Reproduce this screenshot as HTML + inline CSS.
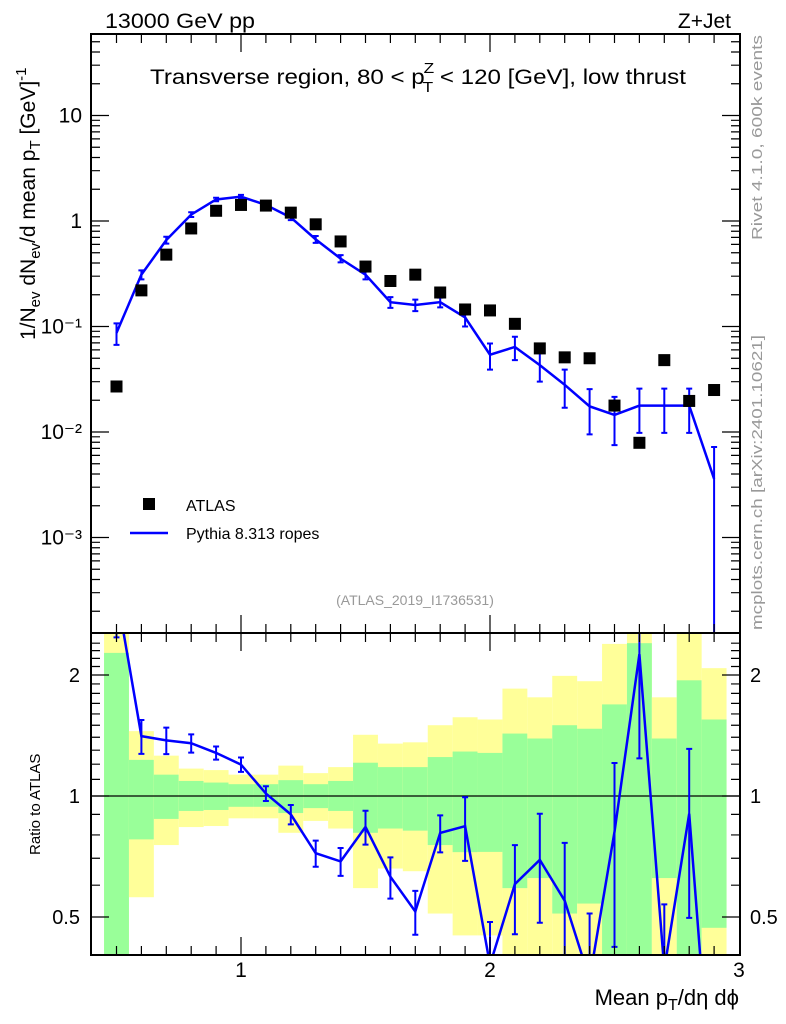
<!DOCTYPE html>
<html><head><meta charset="utf-8"><style>
html,body{margin:0;padding:0;background:#fff;width:786px;height:1024px;overflow:hidden;}
svg{display:block;font-family:"Liberation Sans",Arial,sans-serif;}
</style></head><body>
<svg id="chart" width="786" height="1024" viewBox="0 0 786 1024" xmlns="http://www.w3.org/2000/svg">
<g id="bands"></g>
<g id="marks"></g>
<g id="axes"></g>
<text x="105" y="28" font-size="21" textLength="150" lengthAdjust="spacingAndGlyphs">13000 GeV pp</text>
<text x="731" y="28" font-size="21" text-anchor="end">Z+Jet</text>
<g transform="translate(150,0) scale(1.15,1) translate(-150,0)">
<text x="150" y="84" font-size="21"><tspan>Transverse region, 80 &lt; p</tspan><tspan font-size="15" dx="-1" dy="-11">Z</tspan><tspan font-size="15" dx="-10" dy="19">T</tspan><tspan dy="-8"> &lt; 120 [GeV], low thrust</tspan></text>
</g>
<text x="415" y="605" font-size="14" fill="#999" text-anchor="middle">(ATLAS_2019_I1736531)</text>
<text transform="translate(762,240) rotate(-90)" font-size="15" fill="#999" textLength="205" lengthAdjust="spacingAndGlyphs">Rivet 4.1.0,  600k events</text>
<text transform="translate(762,630) rotate(-90)" font-size="15" fill="#999" textLength="295" lengthAdjust="spacingAndGlyphs">mcplots.cern.ch [arXiv:2401.10621]</text>
<text transform="translate(35,340) rotate(-90)" font-size="21">1/N<tspan font-size="15" dy="5">ev</tspan><tspan dy="-5"> dN</tspan><tspan font-size="15" dy="5">ev</tspan><tspan dy="-5">/d mean p</tspan><tspan font-size="15" dy="5">T</tspan><tspan dy="-5"> [GeV]</tspan><tspan font-size="15" dy="-9">-1</tspan></text>
<text transform="translate(40,855) rotate(-90)" font-size="15">Ratio to ATLAS</text>
<text x="739" y="1005" font-size="22" text-anchor="end">Mean p<tspan font-size="16" dy="5">T</tspan><tspan dy="-5">/dη dϕ</tspan></text>
<rect x="143" y="498" width="12" height="12" fill="#000"/>
<text x="186" y="511" font-size="16">ATLAS</text>
<line x1="130" y1="533" x2="168" y2="533" stroke="#0000ff" stroke-width="2.5"/>
<text x="186" y="539" font-size="16">Pythia 8.313 ropes</text>
</svg>
<script>
const xCenters=[0.5,0.6,0.7,0.8,0.9,1.0,1.1,1.2,1.3,1.4,1.5,1.6,1.7,1.8,1.9,2.0,2.1,2.2,2.3,2.4,2.5,2.6,2.7,2.8,2.9];
const atlasValues=[0.027,0.22,0.48,0.85,1.25,1.42,1.4,1.2,0.93,0.64,0.37,0.27,0.31,0.21,0.145,0.142,0.106,0.062,0.051,0.05,0.0178,0.0079,0.048,0.0197,0.025];
const mcValues=[0.087,0.31,0.66,1.15,1.6,1.7,1.42,1.08,0.67,0.44,0.31,0.17,0.16,0.17,0.122,0.054,0.064,0.043,0.028,0.0175,0.0145,0.0178,0.0178,0.0178,0.0036];
const mcErrors=[0.02,0.03,0.05,0.06,0.06,0.07,0.06,0.06,0.05,0.035,0.03,0.02,0.02,0.018,0.022,0.015,0.016,0.013,0.011,0.008,0.007,0.008,0.008,0.008,0.0036];
const greenUp=[2.27,1.23,1.13,1.09,1.08,1.07,1.07,1.095,1.07,1.09,1.21,1.18,1.18,1.25,1.29,1.28,1.43,1.39,1.5,1.47,1.69,2.4,1.39,1.94,1.55];
const greenDn=[0.3,0.78,0.877,0.918,0.923,0.94,0.94,0.907,0.933,0.918,0.81,0.83,0.82,0.755,0.725,0.726,0.59,0.625,0.51,0.54,0.3,0.3,0.625,0.3,0.47];
const yellowUp=[3,1.45,1.26,1.17,1.16,1.13,1.13,1.19,1.14,1.18,1.42,1.35,1.36,1.5,1.57,1.55,1.85,1.76,1.99,1.93,2.39,3,1.76,3,2.08];
const yellowDn=[0.3,0.56,0.755,0.837,0.842,0.88,0.88,0.81,0.867,0.83,0.59,0.66,0.65,0.51,0.45,0.45,0.3,0.3,0.3,0.3,0.3,0.3,0.3,0.3,0.3];
const mainTickLabels=["10⁻³","10⁻²","10⁻¹","1","10"];
const ratioTickValues=[0.5,1,2];
const xTickValues=[1,2,3];

const NS="http://www.w3.org/2000/svg";
const L=91,R=740,T=34,MB=633,RB=955;
const X=v=>241+(v-1)*249;
const Y=v=>221-Math.log10(v)*105.5;
const YR=v=>796-Math.log2(v)*121;
const bw=0.05;
function mk(parent,tag,attrs){const e=document.createElementNS(NS,tag);for(const k in attrs)e.setAttribute(k,attrs[k]);parent.appendChild(e);return e;}
const bands=document.getElementById('bands'),marks=document.getElementById('marks'),axes=document.getElementById('axes');
const clampR=v=>Math.max(MB,Math.min(RB,v));

xCenters.forEach((c,i)=>{
 const x0=X(c-bw),w=X(c+bw)-x0;
 let y1=clampR(YR(yellowUp[i])),y2=clampR(YR(yellowDn[i]));
 const r=mk(bands,'rect',{x:x0,y:y1,width:w,height:y2-y1,fill:'#ffff99'});
 
 
 y1=clampR(YR(greenUp[i]));y2=clampR(YR(greenDn[i]));
 const g=mk(bands,'rect',{x:x0,y:y1,width:w,height:y2-y1,fill:'#99ff99'});
 
 
});
const one=mk(marks,'line',{x1:L,x2:R,y1:YR(1),y2:YR(1),stroke:'#000','stroke-width':1.2});



const defs=mk(document.getElementById('chart'),'defs',{});
const c1=mk(defs,'clipPath',{id:'cm'});mk(c1,'rect',{x:L,y:T,width:R-L,height:MB-T});
const c2=mk(defs,'clipPath',{id:'cr'});mk(c2,'rect',{x:L,y:MB,width:R-L,height:RB-MB});
const gm=mk(marks,'g',{'clip-path':'url(#cm)'});
const gr=mk(marks,'g',{'clip-path':'url(#cr)'});

let pts=xCenters.map((c,i)=>X(c)+','+Y(mcValues[i])).join(' ');
const ml=mk(gm,'polyline',{points:pts,fill:'none',stroke:'#0000ff','stroke-width':2.5});


xCenters.forEach((c,i)=>{
 const lo=mcValues[i]-mcErrors[i],hi=mcValues[i]+mcErrors[i];
 const yl=lo>0?Y(lo):MB,yh=Y(hi);
 const e=mk(gm,'path',{d:`M${X(c)},${yl}V${yh}M${X(c)-3},${yh}h6M${X(c)-3},${yl}h6`,stroke:'#0000ff','stroke-width':2,fill:'none'});
 
 
 const s=mk(gm,'rect',{x:X(c)-6,y:Y(atlasValues[i])-6,width:12,height:12,fill:'#000'});
 
 
});
pts=xCenters.map((c,i)=>X(c)+','+YR(mcValues[i]/atlasValues[i])).join(' ');
const rl=mk(gr,'polyline',{points:pts,fill:'none',stroke:'#0000ff','stroke-width':2.5});


xCenters.forEach((c,i)=>{
 const r=mcValues[i]/atlasValues[i],e=mcErrors[i]/atlasValues[i];
 const yl=r-e>0?YR(r-e):RB,yh=YR(r+e);
 const b=mk(gr,'path',{d:`M${X(c)},${yl}V${yh}M${X(c)-3},${yh}h6M${X(c)-3},${yl}h6`,stroke:'#0000ff','stroke-width':2,fill:'none'});
 
 
});

[[T,MB],[MB,RB]].forEach(([a,b])=>{const f=mk(axes,'rect',{x:L,y:a,width:R-L,height:b-a,fill:'none',stroke:'#000','stroke-width':2});
 
 });
let d='';
for(let k=5;k<=29;k++){const v=k/10,x=X(v),maj=(k%10===0),len=maj?18:9;
 d+=`M${x},${MB}v${-len}M${x},${T}v${len}M${x},${RB}v${-len}M${x},${MB}v${len}`;}
for(let e=-4;e<=1;e++)for(let m=1;m<=9;m++){const v=m*Math.pow(10,e),y=Y(v);if(y<T||y>MB)continue;const len=m===1?18:9;
 d+=`M${L},${y}h${len}M${R},${y}h${-len}`;}
for(let v=0.4;v<=2.5;v+=0.1){const y=YR(v);if(y<MB||y>RB)continue;const maj=[0.5,1,2].some(t=>Math.abs(t-v)<1e-6),len=maj?18:9;
 d+=`M${L},${y}h${len}M${R},${y}h${-len}`;}
const tk=mk(axes,'path',{d:d,stroke:'#000','stroke-width':1.2,fill:'none'});


mainTickLabels.forEach((lab,i)=>{const t=mk(axes,'text',{x:82,y:Y(Math.pow(10,i-3))+7,'font-size':21,'text-anchor':'end'});t.textContent=lab;
 
 });
ratioTickValues.forEach(v=>{[[80,'end'],[750,'start']].forEach(([x,a])=>{const t=mk(axes,'text',{x:x,y:YR(v)+7,'font-size':20,'text-anchor':a});t.textContent=String(v);
 
 });});
xTickValues.forEach(v=>{const t=mk(axes,'text',{x:X(v),y:977,'font-size':21,'text-anchor':'middle'});t.textContent=String(v);
 
 });
</script>
</body></html>
